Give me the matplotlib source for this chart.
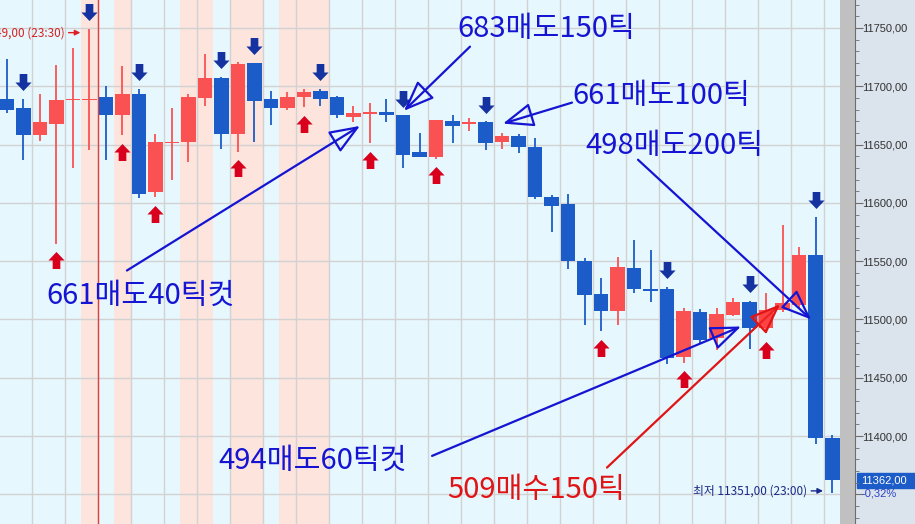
import matplotlib.pyplot as plt
import numpy as np
from matplotlib.path import Path
from matplotlib.transforms import offset_copy, blended_transform_factory

plt.rcParams['font.family'] = ['Noto Sans CJK KR', 'DejaVu Sans']

# 캔들 데이터 (O, H, L, C)
opens = [11689, 11681, 11658, 11668, 11688, 11688, 11691, 11675, 11693, 11609,
         11651, 11652, 11690, 11707, 11659, 11720, 11689, 11681, 11691, 11696,
         11691, 11674, 11676, 11678, 11675, 11644, 11639, 11670, 11668, 11669,
         11652, 11657, 11648, 11605, 11599, 11550, 11522, 11507, 11544, 11526,
         11526, 11468, 11506, 11484, 11504, 11515, 11493, 11508, 11512, 11555,
         11398]
highs = [11723, 11689, 11693, 11718, 11733, 11749, 11700, 11717, 11698, 11659,
         11681, 11693, 11728, 11708, 11721, 11720, 11696, 11695, 11698, 11698,
         11692, 11683, 11686, 11689, 11675, 11660, 11671, 11675, 11673, 11670,
         11660, 11659, 11656, 11607, 11608, 11553, 11536, 11554, 11568, 11560,
         11528, 11510, 11509, 11510, 11518, 11516, 11523, 11581, 11562, 11588,
         11401]
lows = [11677, 11637, 11653, 11565, 11630, 11645, 11637, 11658, 11604, 11605,
        11620, 11635, 11683, 11646, 11644, 11652, 11667, 11680, 11682, 11683,
        11673, 11669, 11651, 11669, 11630, 11639, 11638, 11651, 11662, 11645,
        11646, 11643, 11603, 11575, 11543, 11495, 11490, 11495, 11523, 11515,
        11462, 11463, 11480, 11474, 11503, 11475, 11488, 11506, 11510, 11393,
        11351]
closes = [11680, 11658, 11669, 11688, 11689, 11689, 11675, 11693, 11608, 11652,
          11652, 11691, 11707, 11659, 11719, 11687, 11681, 11691, 11695, 11689,
          11675, 11677, 11678, 11675, 11641, 11639, 11671, 11666, 11669, 11651,
          11657, 11648, 11605, 11597, 11550, 11521, 11507, 11545, 11526, 11524,
          11467, 11507, 11482, 11505, 11515, 11493, 11508, 11514, 11555, 11398,
          11362]

down_sig = [1, 5, 8, 13, 15, 19, 24, 29, 40, 45, 49]
up_sig = [3, 7, 9, 14, 18, 22, 26, 36, 41, 46]
shaded = [5, 7, 11, 12, 14, 15, 17, 18, 19]
yticks = np.arange(11350, 11751, 50)
change_pct = -0.32

# (문구, 글자위치, 화살표 시작, 화살표 끝, 색)
notes = [
    ('683매도150틱', (27.27, 11749.5), (28.06, 11734), (24.06, 11679), '#1414d2'),
    ('661매도100틱', (34.24, 11691.5), (34.24, 11686), (30.06, 11668), '#1414d2'),
    ('498매도200틱', (35.03, 11648.5), (38.24, 11637), (48.73, 11500), '#1414d2'),
    ('661매도40틱컷', (2.42, 11520.5), (7.27, 11542), (21.39, 11666), '#1414d2'),
    ('494매도60틱컷', (12.79, 11379), (25.76, 11383), (44.48, 11494), '#1414d2'),
    ('509매수150틱', (26.67, 11354), (36.36, 11373), (46.85, 11513), '#e01414'),
]

O = np.array(opens); H = np.array(highs); L = np.array(lows); C = np.array(closes)
x = np.arange(len(O))

fig = plt.figure(figsize=(9.15, 5.24), dpi=100)
fig.patch.set_facecolor('#c0c0c0')
ax = fig.add_axes([0, 0, 840 / 915, 1])
ax.set_xlim(-0.42, 50.48)
ax.set_ylim(11324.6, 11774)
ax.set_facecolor('#e6f7fd')
for s in ax.spines.values():
    s.set_visible(False)

for i in shaded:
    ax.axvspan(i - 0.5, i + 0.5, color='#fde4dc', zorder=0, lw=0)
ax.set_xticks(np.arange(1.5, 50, 2))
ax.set_yticks(yticks)
ax.grid(True, color='#d2d2d2', lw=1)
ax.set_axisbelow(True)
ax.tick_params(left=False, bottom=False, labelleft=False, labelbottom=False)
ax.axvline(5.5, color='#e04040', lw=1, zorder=1)

# 캔들
is_up = C >= O
cols = np.where(is_up, '#fa5252', '#1c5cc8')
ax.vlines(x, L, H, colors=cols, lw=1.3, zorder=2)
ax.bar(x, np.maximum(np.abs(C - O), 1.2), bottom=np.minimum(O, C), width=0.9,
       color=cols, zorder=3)

# 신호 화살표
down_path = Path([(-0.45, 1), (0.45, 1), (0.45, 0.0), (0.95, 0.0), (0, -1),
                  (-0.95, 0.0), (-0.45, 0.0), (-0.45, 1)],
                 [Path.MOVETO] + [Path.LINETO] * 6 + [Path.CLOSEPOLY])
up_path = Path(down_path.vertices * [1, -1], down_path.codes)
t_down = offset_copy(ax.transData, fig=fig, y=12, units='points')
t_up = offset_copy(ax.transData, fig=fig, y=-12, units='points')
ax.scatter(x[down_sig], H[down_sig], marker=down_path, s=150, color='#1432a0',
           transform=t_down, zorder=4, lw=0)
ax.scatter(x[up_sig], L[up_sig], marker=up_path, s=150, color='#d8001c',
           transform=t_up, zorder=4, lw=0)

# 주석
for txt, tpos, tail, tip, col in notes:
    ax.text(*tpos, txt, color=col, fontsize=21, ha='left', va='center', zorder=6)
    fc = 'none' if col != '#e01414' else (1, 0.2, 0.2, 0.45)
    ax.annotate('', xy=tip, xytext=tail, zorder=5,
                arrowprops=dict(arrowstyle='-|>,head_length=1.9,head_width=0.75',
                                mutation_scale=10, lw=1.6, ec=col, fc=fc,
                                shrinkA=0, shrinkB=0))

ax.annotate(f'최고 {H[5]},00 (23:30)', xy=(4.45, H[5] - 3), xytext=(-16, 0),
            textcoords='offset pixels', ha='right', va='center', color='#d42020',
            fontsize=8.5, arrowprops=dict(arrowstyle='-|>', color='#e02020', lw=1,
                                          shrinkA=1, shrinkB=0, mutation_scale=8))
ax.annotate(f'최저 {L[-1]},00 (23:00)', xy=(49.45, L[-1] + 2), xytext=(-16, 0),
            textcoords='offset pixels', ha='right', va='center', color='#1a2a8a',
            fontsize=8.5, arrowprops=dict(arrowstyle='-|>', color='#1a2a8a', lw=1,
                                          shrinkA=1, shrinkB=0, mutation_scale=8))

# 가격축
axis_font = ['Liberation Sans']
ax2 = fig.add_axes([855 / 915, 0, 60 / 915, 1])
ax2.set_ylim(ax.get_ylim())
ax2.set_facecolor('#dbe3ec')
ax2.set_xticks([])
for k in ['top', 'right', 'bottom']:
    ax2.spines[k].set_visible(False)
ax2.spines['left'].set_color('#6e6e6e')
ax2.set_yticks(yticks)
ax2.set_yticks(np.arange(11330, 11771, 10), minor=True)
ax2.set_yticklabels(['' if v < 11400 else f'{v},00' for v in yticks], family=axis_font)
ax2.tick_params(axis='y', which='major', direction='in', length=6, color='#6e6e6e',
                labelsize=8, labelcolor='#333333', pad=-5)
ax2.tick_params(axis='y', which='minor', direction='in', length=3, color='#6e6e6e')
for lab in ax2.get_yticklabels():
    lab.set_ha('left')

ax2.axhspan(C[-1] - 6.5, C[-1] + 6.5, xmin=0.03, xmax=1, color='#1c5cc8')
bt = blended_transform_factory(ax2.transAxes, ax2.transData)
ax2.text(0.1, C[-1], f'{C[-1]},00', transform=bt, color='white', fontsize=8,
         va='center', ha='left', family=axis_font)
ax2.text(0.1, C[-1] - 11, f'{change_pct:.2f}%'.replace('.', ','), transform=bt,
         color='#2a40c8', fontsize=8, va='center', ha='left', family=axis_font)

fig.savefig('out.png', dpi=100, facecolor=fig.get_facecolor())
